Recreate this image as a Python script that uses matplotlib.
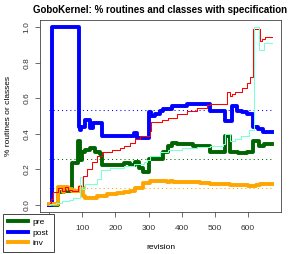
#!/usr/bin/env python3
"""
GoboKernel: share of routines and classes with specification, per revision.
"""

import matplotlib
matplotlib.use("Agg")
import matplotlib.pyplot as plt
from matplotlib.lines import Line2D

plt.rcParams["font.family"] = ["Liberation Sans", "DejaVu Sans"]
plt.rcParams["font.size"] = 6.0

# step series: (revision, value) change points
pre_rev = [0, 28, 45, 70, 88, 92, 100, 110, 124, 140, 155, 160, 225, 245, 258, 270, 282,
           302, 343, 360, 370, 385, 434, 485, 530, 545, 570, 596, 616, 633, 648, 672]
pre_val = [0.0, 0.07, 0.08, 0.235, 0.36, 0.25, 0.30, 0.31, 0.32, 0.30, 0.285, 0.225, 0.235,
           0.225, 0.24, 0.21, 0.185, 0.26, 0.30, 0.333, 0.35, 0.34, 0.333, 0.30, 0.39, 0.30,
           0.29, 0.30, 0.36, 0.33, 0.34, 0.34]

post_rev = [0, 8, 91, 94, 98, 108, 124, 133, 160, 200, 255, 265, 302, 306, 319, 334, 343,
            370, 415, 485, 530, 551, 566, 581, 596, 616, 630, 645, 672]
post_val = [0.0, 1.0, 0.44, 0.42, 0.44, 0.475, 0.43, 0.46, 0.385, 0.39, 0.405, 0.375, 0.52,
            0.50, 0.51, 0.53, 0.54, 0.556, 0.566, 0.53, 0.47, 0.555, 0.53, 0.52, 0.51, 0.44,
            0.425, 0.41, 0.41]

inv_rev = [0, 28, 42, 46, 56, 70, 94, 103, 109, 145, 175, 205, 225, 245, 260, 282, 303,
           355, 365, 375, 456, 485, 545, 600, 625, 636, 672]
inv_val = [0.005, 0.1, 0.075, 0.1, 0.09, 0.08, 0.1, 0.05, 0.04, 0.05, 0.06, 0.065, 0.075,
           0.08, 0.095, 0.123, 0.134, 0.13, 0.135, 0.13, 0.125, 0.12, 0.11, 0.105, 0.11,
           0.12, 0.12]

routines_rev = [0, 3, 5, 12, 28, 40, 48, 58, 70, 88, 103, 114, 130, 145, 160, 190, 214, 225,
                244, 259, 274, 295, 304, 307, 340, 358, 385, 415, 445, 475, 485, 537, 545,
                551, 560, 581, 596, 605, 616, 636, 642, 651, 672]
routines_val = [0.0, 0.01, 0.035, 0.07, 0.095, 0.08, 0.1, 0.085, 0.08, 0.108, 0.165, 0.2,
                0.24, 0.276, 0.297, 0.31, 0.32, 0.33, 0.35, 0.37, 0.385, 0.39, 0.415, 0.465,
                0.478, 0.49, 0.51, 0.53, 0.547, 0.56, 0.57, 0.637, 0.613, 0.626, 0.637, 0.656,
                0.687, 0.722, 0.99, 0.92, 0.935, 0.945, 0.945]

classes_rev = [0, 3, 20, 40, 60, 72, 94, 100, 109, 145, 158, 185, 225, 255, 285, 296, 304,
               334, 358, 400, 445, 485, 525, 530, 545, 560, 580, 603, 619, 634, 648, 672]
classes_val = [0.0, 0.005, 0.012, 0.02, 0.028, 0.04, 0.155, 0.09, 0.118, 0.146, 0.195, 0.205,
               0.22, 0.23, 0.24, 0.25, 0.275, 0.295, 0.31, 0.318, 0.325, 0.333, 0.34, 0.40,
               0.36, 0.37, 0.39, 0.42, 1.0, 0.874, 0.91, 0.91]

# averages (dotted)
mean_pre = 0.26
mean_post = 0.536
mean_inv = 0.093
mean_span = [0, 672]

xticks = [0, 100, 200, 300, 400, 500, 600]
xtick_labels = ["", "100", "200", "300", "400", "500", "600"]  # 0 sits under the legend
yticks = [0.0, 0.2, 0.4, 0.6, 0.8, 1.0]
ytick_labels = ["0.0", "0.2", "0.4", "0.6", "0.8", "1.0"]


def main():
    fig = plt.figure(figsize=(2.94, 2.54), dpi=100)
    ax = fig.add_axes([40 / 294, 1 - 212 / 254, 241 / 294, 192 / 254])

    ax.plot(mean_span, [mean_post] * 2, color="blue", lw=0.75, ls=(0, (1, 3)))
    ax.plot(mean_span, [mean_pre] * 2, color="darkgreen", lw=0.75, ls=(0, (1, 3)))
    ax.plot(mean_span, [mean_inv] * 2, color="orange", lw=0.75, ls=(0, (1, 3)))

    ax.plot(pre_rev, pre_val, color="darkgreen", lw=2.8, drawstyle="steps-post")
    ax.plot(post_rev, post_val, color="blue", lw=2.8, drawstyle="steps-post")
    ax.plot(inv_rev, inv_val, color="orange", lw=2.8, drawstyle="steps-post")
    ax.plot(routines_rev, routines_val, color="red", lw=0.75, drawstyle="steps-post")
    ax.plot(classes_rev, classes_val, color="aquamarine", lw=0.75, drawstyle="steps-post")

    ax.set_xlim(-27, 699)
    ax.set_ylim(-0.04, 1.04)
    ax.set_xticks(xticks)
    ax.set_xticklabels(xtick_labels)
    ax.set_yticks(yticks)
    ax.set_yticklabels(ytick_labels, rotation=90, va="center")
    ax.tick_params(axis="x", pad=5.5)
    ax.tick_params(axis="y", pad=3.5)
    ax.tick_params(length=3.6, width=0.6, color="#555555", labelcolor="#333333")
    for s in ax.spines.values():
        s.set_linewidth(0.6)
        s.set_color("#444444")

    ax.set_title("GoboKernel: % routines and classes with specification",
                 fontsize=7.0, fontweight="bold", pad=5)
    ax.set_xlabel("revision", labelpad=9)
    ax.set_ylabel("% routines or classes", labelpad=8)

    handles = [Line2D([], [], color="darkgreen", lw=2.8),
               Line2D([], [], color="blue", lw=2.8),
               Line2D([], [], color="orange", lw=2.8)]
    leg = ax.legend(handles, ["pre", "post", "inv"], loc="lower left",
                    bbox_to_anchor=(3 / 294, 2 / 254), bbox_transform=fig.transFigure,
                    fancybox=False, framealpha=1, edgecolor="#444444",
                    handlelength=2.4, handletextpad=0.55, labelspacing=0.3,
                    borderpad=0.6, borderaxespad=0)
    leg.get_frame().set_linewidth(0.7)
    leg.set_zorder(10)

    fig.savefig("out.png", dpi=100)


if __name__ == "__main__":
    main()
